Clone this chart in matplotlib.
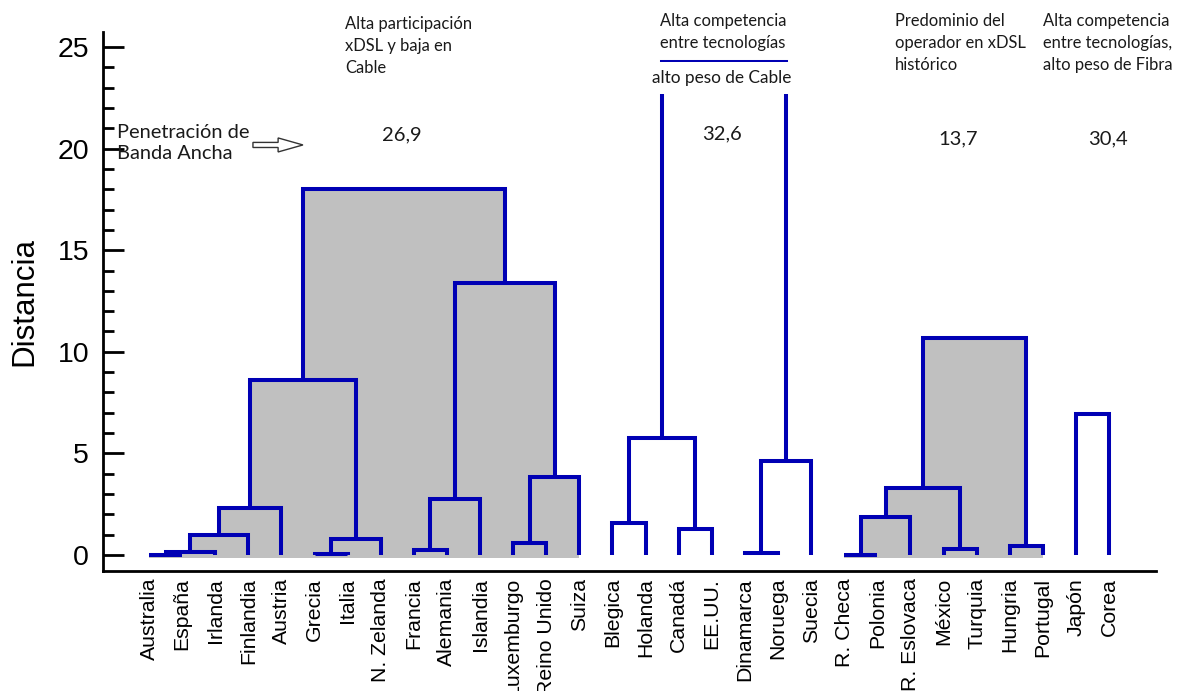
import numpy as np
import matplotlib.pyplot as plt
from matplotlib.patches import Rectangle, FancyArrow

plt.rcParams['font.family'] = ['Liberation Sans', 'DejaVu Sans']

countries = ['Australia', 'España', 'Irlanda', 'Finlandia', 'Austria', 'Grecia',
             'Italia', 'N. Zelanda', 'Francia', 'Alemania', 'Islandia', 'Luxemburgo',
             'Reino Unido', 'Suiza', 'Blegica', 'Holanda', 'Canadá', 'EE.UU.',
             'Dinamarca', 'Noruega', 'Suecia', 'R. Checa', 'Polonia', 'R. Eslovaca',
             'México', 'Turquia', 'Hungria', 'Portugal', 'Japón', 'Corea']

# merges (left, right, distance); ids < 30 are countries, 30+k is merge k
merges = [
    (0, 1, 0.0), (30, 2, 0.15), (31, 3, 0.98), (32, 4, 2.3),
    (5, 6, 0.05), (34, 7, 0.8), (33, 35, 8.6),
    (8, 9, 0.25), (37, 10, 2.75), (11, 12, 0.6), (39, 13, 3.85),
    (38, 40, 13.4), (36, 41, 18.0),
    (14, 15, 1.55), (16, 17, 1.27), (43, 44, 5.76),
    (18, 19, 0.1), (46, 20, 4.63), (45, 47, 24.26),
    (21, 22, 0.0), (49, 23, 1.87), (24, 25, 0.3), (50, 51, 3.3),
    (26, 27, 0.44), (52, 53, 10.68),
    (28, 29, 6.94),
]
shaded_roots = [42, 54]

# group notes: (text, x, y, ha)
group_notes = [
    ('Alta participación\nxDSL y baja en\nCable', 5.92, 25.05, 'left'),
    ('Alta competencia\nentre tecnologías', 17.34, 25.72, 'center'),
    ('Predominio del\noperador en xDSL\nhistórico', 22.54, 25.2, 'left'),
    ('Alta competencia\nentre tecnologías,\nalto peso de Fibra', 27.01, 25.2, 'left'),
]
penetration = ['26,9', '32,6', '13,7', '30,4']
pen_x = [7.64, 17.31, 24.44, 28.97]
pen_y = [20.67, 20.72, 20.47, 20.47]

line_c = '#0000b4'
gray = '#c0c0c0'
note_font = ['Lato', 'DejaVu Sans']

fig = plt.figure(figsize=(11.77, 6.91), dpi=100)
ax = fig.add_axes([0.0875, 0.1737, 0.8947, 0.78])

xpos = {i: float(i) for i in range(len(countries))}
hgt = {i: 0.0 for i in range(len(countries))}
for k, (a, b, h) in enumerate(merges):
    xpos[30 + k] = (xpos[a] + xpos[b]) / 2
    hgt[30 + k] = h

def children(node):
    if node < 30:
        return []
    a, b, _ = merges[node - 30]
    return [node] + children(a) + children(b)

for root in shaded_roots:
    for node in children(root):
        a, b, h = merges[node - 30]
        ax.add_patch(Rectangle((xpos[a], -0.15), xpos[b] - xpos[a], h + 0.15,
                               facecolor=gray, edgecolor='none', zorder=1))

for k, (a, b, h) in enumerate(merges):
    ax.plot([xpos[a], xpos[a], xpos[b], xpos[b]], [hgt[a], h, h, hgt[b]],
            color=line_c, lw=2.9, solid_joinstyle='miter', solid_capstyle='butt', zorder=2)

ax.set_xlim(-1.39, 30.42)
ax.set_ylim(-0.79, 25.74)
ax.set_xticks(range(len(countries)))
ax.set_xticklabels(countries, rotation=90, fontsize=15.3)
ax.tick_params(axis='x', length=0, pad=5)
ax.set_yticks(np.arange(0, 26, 5))
ax.set_yticks(np.arange(0, 26, 1), minor=True)
ax.tick_params(axis='y', which='major', direction='in', length=15, width=2, labelsize=20.5, pad=10)
ax.tick_params(axis='y', which='minor', direction='in', length=8, width=2)
for s in ['top', 'right']:
    ax.spines[s].set_visible(False)
for s in ['left', 'bottom']:
    ax.spines[s].set_linewidth(2)
ax.set_ylabel('Distancia', fontsize=22.5)
ax.yaxis.set_label_coords(-0.06, 0.5)

for txt, x, y, ha in group_notes:
    ax.text(x, y, txt, ha=ha, va='center', fontsize=11.9, linespacing=1.45,
            family=note_font, color='#1a1a1a')
ax.text(17.31, 23.47, 'alto peso de Cable', ha='center', va='center', fontsize=12.4,
        family=note_font, color='#1a1a1a', zorder=5,
        bbox=dict(boxstyle='square,pad=0.45', facecolor='white', edgecolor='none'))
for txt, x, y in zip(penetration, pen_x, pen_y):
    ax.text(x, y, txt, ha='center', va='center', fontsize=14.5, family=note_font,
            color='#1a1a1a')

ax.text(-0.97, 20.28, 'Penetración de\nBanda Ancha', ha='left', va='center',
        fontsize=14.4, linespacing=1.3, family=note_font, color='#1a1a1a')
ax.add_patch(FancyArrow(3.14, 20.18, 1.51, 0, width=0.25, head_width=0.69,
                        head_length=0.75, length_includes_head=True,
                        facecolor='white', edgecolor='#333333', lw=1, zorder=3))

fig.savefig('out.png', dpi=100)
